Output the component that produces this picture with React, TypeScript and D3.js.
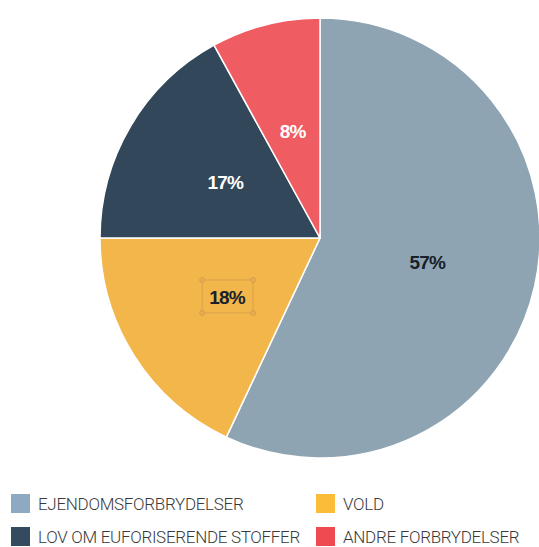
import React, { useEffect, useRef } from 'react';
import * as d3 from 'd3';

const categories = ['EJENDOMSFORBRYDELSER', 'VOLD', 'LOV OM EUFORISERENDE STOFFER', 'ANDRE FORBRYDELSER'];
const shares = [57, 18, 17, 8];
const sliceColors = ['#8ea4b2', '#f2b64b', '#33475a', '#ef5c62'];
const legendColors = ['#8eaac2', '#fbbc3a', '#344b5f', '#ef4a51'];
const labelColors = ['#17212b', '#17212b', '#ffffff', '#ffffff'];
// legend order (two rows, two columns)
const legendOrder = [0, 1, 2, 3];

const App: React.FC = () => {
  const svgRef = useRef<SVGSVGElement>(null);

  useEffect(() => {
    if (!svgRef.current) return;
    const root = d3.select(svgRef.current);
    root.selectAll('*').remove();

    const width = 539;
    const height = 547;
    const cx = 320;
    const cy = 238;
    const radius = 220;

    root.attr('width', width).attr('height', height);

    const pieGen = d3
      .pie<number>()
      .sort(null)
      .value((d) => d);
    const arcs = pieGen(shares);
    const arcGen = d3.arc<d3.PieArcDatum<number>>().innerRadius(0).outerRadius(radius);

    const g = root.append('g').attr('transform', `translate(${cx},${cy})`);

    g.selectAll('path')
      .data(arcs)
      .enter()
      .append('path')
      .attr('d', arcGen)
      .attr('fill', (d, i) => sliceColors[i])
      .attr('stroke', '#ffffff')
      .attr('stroke-width', 1.5)
      .attr('stroke-linejoin', 'round');

    // procentetiketter
    g.selectAll('text.pct')
      .data(arcs)
      .enter()
      .append('text')
      .attr('class', 'pct')
      .attr('x', (d) => arcGen.centroid(d)[0])
      .attr('y', (d) => arcGen.centroid(d)[1])
      .attr('dy', '0.36em')
      .attr('text-anchor', 'middle')
      .style('font-family', 'Arial, "Liberation Sans", sans-serif')
      .style('font-size', '19px')
      .style('font-weight', 'bold')
      .style('letter-spacing', '-0.8px')
      .attr('fill', (d, i) => labelColors[i])
      .text((d) => `${d.data}%`);

    // markeringsboks omkring 18%
    const c18 = arcGen.centroid(arcs[1]);
    const bx = c18[0] - 25;
    const by = c18[1] - 17;
    const bw = 51;
    const bh = 33;
    g.append('rect')
      .attr('x', bx)
      .attr('y', by)
      .attr('width', bw)
      .attr('height', bh)
      .attr('fill', 'none')
      .attr('stroke', '#d9a24e')
      .attr('stroke-width', 1);
    const corners = [
      [bx, by],
      [bx + bw, by],
      [bx, by + bh],
      [bx + bw, by + bh],
    ];
    g.selectAll('circle.handle')
      .data(corners)
      .enter()
      .append('circle')
      .attr('class', 'handle')
      .attr('cx', (d) => d[0])
      .attr('cy', (d) => d[1])
      .attr('r', 2.5)
      .attr('fill', '#e8ac52')
      .attr('stroke', '#d39a48')
      .attr('stroke-width', 0.8);

    // forklaring
    const legend = root.append('g');
    const colX = [11, 316];
    const rowY = [494, 527];
    legendOrder.forEach((idx, k) => {
      const x = colX[k % 2];
      const y = rowY[Math.floor(k / 2)];
      legend
        .append('rect')
        .attr('x', x)
        .attr('y', y)
        .attr('width', 19)
        .attr('height', 19)
        .attr('fill', legendColors[idx]);
      legend
        .append('text')
        .attr('x', x + 27)
        .attr('y', y + 16)
        .style('font-family', 'Roboto, "Liberation Sans", sans-serif')
        .style('font-size', '17px')
        .style('font-weight', 300)
        .style('letter-spacing', '-0.3px')
        .attr('fill', '#3a3a3a')
        .text(categories[idx]);
    });
  }, []);

  return <svg ref={svgRef} style={{ position: 'absolute', left: 0, top: 0 }}></svg>;
};

export default App;
